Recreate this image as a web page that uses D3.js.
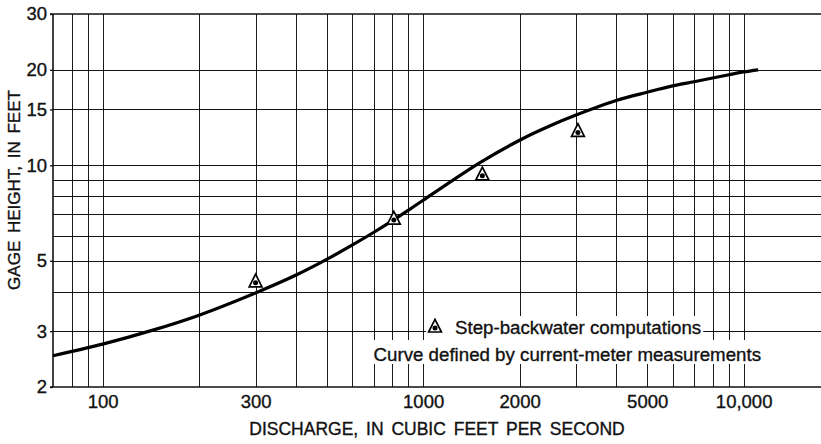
<!DOCTYPE html>
<html>
<head>
<meta charset="utf-8">
<script src="https://cdn.jsdelivr.net/npm/d3@7"></script>
<style>
  html, body { margin: 0; padding: 0; background: #fff; }
  svg { display: block; }
  text { font-family: "Liberation Sans", Arial, Helvetica, sans-serif; fill: #111; stroke: #111; stroke-width: 0.35px; }
</style>
</head>
<body>
<svg id="chart" width="821" height="444"></svg>
<script>
// Stage-discharge relation: rating curve and step-backwater computations
const curveDischarge = [70, 100, 140, 200, 300, 400, 500, 600, 700, 800, 900, 1000,
  1500, 2000, 2500, 3000, 4000, 5000, 6000, 7000, 8000, 9000, 10000, 11100];
const curveStage = [2.51, 2.73, 3.0, 3.37, 3.96, 4.5, 5.05, 5.6, 6.14, 6.68, 7.22, 7.76,
  10.18, 12.0, 13.35, 14.4, 16.0, 17.0, 17.8, 18.35, 18.85, 19.3, 19.7, 20.0];

const stepDischarge = [300, 810, 1530, 3040];
const stepStage = [4.26, 6.72, 9.27, 12.7];

const xTickLabels = [100, 300, 1000, 2000, 5000, 10000];
const yTickLabels = [2, 3, 5, 10, 15, 20, 30];
const xGridValues = [80, 90, 100, 200, 300, 400, 500, 600, 700, 800, 900,
  1000, 2000, 3000, 4000, 5000, 6000, 7000, 8000, 9000, 10000];
const yGridValues = [3, 4, 5, 6, 7, 8, 9, 10, 15, 20];

const xTitle = "DISCHARGE, IN CUBIC FEET PER SECOND";
const yTitle = "GAGE HEIGHT, IN FEET";
const legendStep = "Step-backwater computations";
const legendCurve = "Curve defined by current-meter measurements";

const svg = d3.select("#chart");
const plotLeft = 53, plotRight = 821, plotTop = 14, plotBottom = 387;

const x = d3.scaleLog().domain([70, 17430]).range([plotLeft, plotRight]);
const y = d3.scaleLog().domain([2, 30]).range([plotBottom, plotTop]);

// vertical grid lines
svg.append("g")
  .attr("transform", `translate(0,${plotBottom})`)
  .call(d3.axisBottom(x).tickValues(xGridValues).tickSize(-(plotBottom - plotTop)).tickFormat(""))
  .call(g => g.select(".domain").remove())
  .call(g => g.selectAll("line").attr("stroke", "#1a1a1a").attr("stroke-width", 1)
    .attr("shape-rendering", "crispEdges"));

// horizontal grid lines
svg.append("g")
  .attr("transform", `translate(${plotLeft},0)`)
  .call(d3.axisLeft(y).tickValues(yGridValues).tickSize(-(plotRight - plotLeft)).tickFormat(""))
  .call(g => g.select(".domain").remove())
  .call(g => g.selectAll("line").attr("stroke", "#111").attr("stroke-width", 1)
    .attr("shape-rendering", "crispEdges"));

// frame: left, top and bottom edges
svg.append("line").attr("x1", plotLeft).attr("x2", plotLeft).attr("y1", plotTop).attr("y2", plotBottom)
  .attr("stroke", "#111").attr("stroke-width", 1.6);
svg.append("line").attr("x1", plotLeft - 3).attr("x2", plotRight).attr("y1", y(30)).attr("y2", y(30))
  .attr("stroke", "#111").attr("stroke-width", 1.4);
svg.append("line").attr("x1", plotLeft - 3).attr("x2", plotRight).attr("y1", y(2)).attr("y2", y(2))
  .attr("stroke", "#111").attr("stroke-width", 1.6);

// y tick labels
svg.append("g")
  .attr("transform", `translate(${plotLeft},0)`)
  .call(d3.axisLeft(y).tickValues(yTickLabels).tickSize(3).tickPadding(3).tickFormat(d3.format("d")))
  .call(g => g.select(".domain").remove())
  .call(g => g.selectAll("line").attr("stroke", "#111").attr("stroke-width", 1.3))
  .call(g => g.selectAll("text").attr("font-size", 18.5).attr("fill", "#111")
    .attr("font-family", "Liberation Sans, Arial, sans-serif"));

// x tick labels
svg.append("g")
  .attr("transform", `translate(0,${plotBottom})`)
  .call(d3.axisBottom(x).tickValues(xTickLabels).tickSize(0).tickPadding(8)
    .tickFormat(d => d >= 10000 ? d3.format(",")(d) : String(d)))
  .call(g => g.select(".domain").remove())
  .call(g => g.selectAll("text").attr("font-size", 18.5).attr("fill", "#111")
    .attr("font-family", "Liberation Sans, Arial, sans-serif"));

// axis titles
svg.append("text")
  .attr("x", (plotLeft + plotRight) / 2).attr("y", 435)
  .attr("text-anchor", "middle")
  .attr("font-size", 17.5).style("word-spacing", "3px")
  .text(xTitle);

svg.append("text")
  .attr("transform", "translate(20,190) rotate(-90)")
  .attr("text-anchor", "middle")
  .attr("font-size", 17).style("word-spacing", "3px")
  .text(yTitle);

// rating curve
const line = d3.line()
  .x((d, i) => x(curveDischarge[i]))
  .y(d => y(d))
  .curve(d3.curveCatmullRom.alpha(0.5));

svg.append("path")
  .datum(curveStage)
  .attr("d", line)
  .attr("fill", "none")
  .attr("stroke", "#000")
  .attr("stroke-width", 3.2)
  .attr("stroke-linejoin", "round");

// triangle-with-dot marker
function marker(g) {
  g.append("path")
    .attr("d", "M0,-8.7 L6.4,4 L-6.4,4 Z")
    .attr("fill", "#fff").attr("stroke", "#000").attr("stroke-width", 1.7)
    .attr("stroke-linejoin", "miter");
  g.append("circle").attr("r", 2.5).attr("cy", 0).attr("fill", "#000");
}

svg.append("g").selectAll("g")
  .data(stepStage)
  .join("g")
  .attr("transform", (d, i) => `translate(${x(stepDischarge[i])},${y(d)})`)
  .each(function () { marker(d3.select(this)); });

// legend, set on white blocks over the grid
const legend = svg.append("g");
const bg = legend.append("g");

const t1 = legend.append("text")
  .attr("x", 455).attr("y", 334)
  .attr("font-size", 18.7)
  .text(legendStep);
const t2 = legend.append("text")
  .attr("x", 761).attr("y", 361)
  .attr("text-anchor", "end")
  .attr("font-size", 18.7)
  .text(legendCurve);

const legendMarker = legend.append("g").attr("transform", "translate(435,328)");
marker(legendMarker);

const b1 = t1.node().getBBox();
const b2 = t2.node().getBBox();
bg.append("rect")
  .attr("x", 426).attr("y", 316)
  .attr("width", b1.x + b1.width + 2 - 426).attr("height", 24)
  .attr("fill", "#fff");
bg.append("rect")
  .attr("x", b2.x - 4).attr("y", 340)
  .attr("width", b2.width + 8).attr("height", 24)
  .attr("fill", "#fff");
</script>
</body>
</html>
